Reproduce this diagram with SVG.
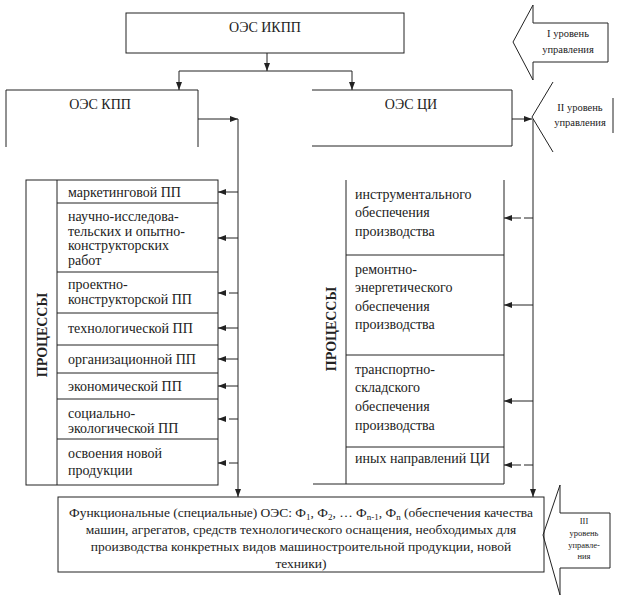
<svg xmlns="http://www.w3.org/2000/svg" width="618" height="605" viewBox="0 0 618 605">
<defs>
<marker id="ah" markerWidth="8" markerHeight="6" refX="8" refY="3" orient="auto" markerUnits="userSpaceOnUse">
<path d="M0,0 L8,3 L0,6 Z" fill="#222"/>
</marker>
<style>
.ln{fill:none;stroke:#222;stroke-width:1}
.t{font-family:"Liberation Serif","Times New Roman",serif;font-size:14px;fill:#222}
.tc{font-family:"Liberation Serif","Times New Roman",serif;font-size:14px;fill:#222;text-anchor:middle}
.tf{font-family:"Liberation Serif","Times New Roman",serif;font-size:13.5px;fill:#222;text-anchor:middle}
.tb{font-family:"Liberation Serif","Times New Roman",serif;font-size:14px;font-weight:bold;fill:#222;text-anchor:middle}
.ts{font-family:"Liberation Serif","Times New Roman",serif;font-size:10.5px;fill:#222;text-anchor:middle}
.tss{font-family:"Liberation Serif","Times New Roman",serif;font-size:8.5px;fill:#222;text-anchor:middle}
.cn{fill:none;stroke:#222;stroke-width:1}
.cd{fill:none;stroke:#222;stroke-width:1;stroke-dasharray:9,3}
</style>
</defs>
<rect width="618" height="605" fill="#fff"/>

<g id="oes-ikpp">
<rect class="ln" x="126" y="13" width="278" height="40"/>
<text class="tc" x="265" y="32">ОЭС ИКПП</text>
</g>

<g id="oes-kpp">
<path class="ln" d="M6,147 V90 H198 V147"/>
<text class="tc" x="100" y="109">ОЭС КПП</text>
</g>

<g id="oes-ci">
<path class="ln" d="M312,90 H512 V146 H312"/>
<text class="tc" x="411" y="109">ОЭС ЦИ</text>
</g>

<g id="processes-left">
<rect class="ln" x="26" y="180" width="192" height="305"/>
<line class="ln" x1="57" y1="180" x2="57" y2="485"/>
<path class="ln" d="M57,203 H218 M57,272 H218 M57,313 H218 M57,345 H218 M57,373 H218 M57,399 H218 M57,439 H218"/>
<text class="tb" transform="translate(47,335) rotate(-90)">ПРОЦЕССЫ</text>
<text class="t" x="68" y="197">маркетинговой ПП</text>
<text class="t" x="68" y="221">научно-исследова-</text>
<text class="t" x="68" y="236">тельских и опытно-</text>
<text class="t" x="68" y="250">конструкторских</text>
<text class="t" x="68" y="265">работ</text>
<text class="t" x="68" y="289">проектно-</text>
<text class="t" x="68" y="304">конструкторской ПП</text>
<text class="t" x="68" y="333">технологической ПП</text>
<text class="t" x="68" y="364">организационной ПП</text>
<text class="t" x="68" y="391">экономической ПП</text>
<text class="t" x="68" y="418">социально-</text>
<text class="t" x="68" y="433">экологической ПП</text>
<text class="t" x="68" y="458">освоения новой</text>
<text class="t" x="68" y="475">продукции</text>
</g>

<g id="processes-right">
<path class="ln" d="M346,180 V484 M504,180 V484 M313,484 H504 M346,255 H504 M346,355 H504 M346,447 H504"/>
<text class="tb" transform="translate(336,329) rotate(-90)">ПРОЦЕССЫ</text>
<text class="t" x="355" y="199">инструментального</text>
<text class="t" x="355" y="217">обеспечения</text>
<text class="t" x="355" y="236">производства</text>
<text class="t" x="355" y="274">ремонтно-</text>
<text class="t" x="355" y="292">энергетического</text>
<text class="t" x="355" y="311">обеспечения</text>
<text class="t" x="355" y="329">производства</text>
<text class="t" x="355" y="374">транспортно-</text>
<text class="t" x="355" y="392">складского</text>
<text class="t" x="355" y="411">обеспечения</text>
<text class="t" x="355" y="430">производства</text>
<text class="t" x="355" y="463">иных направлений ЦИ</text>
</g>

<g id="functional-oes">
<rect class="ln" x="58" y="497" width="486" height="75"/>
<text class="tf" x="301" y="517">Функциональные (специальные) ОЭС: Ф<tspan font-size="9" dy="3">1</tspan><tspan dy="-3">, Ф</tspan><tspan font-size="9" dy="3">2</tspan><tspan dy="-3">, …  Ф</tspan><tspan font-size="9" dy="3">n-1</tspan><tspan dy="-3">, Ф</tspan><tspan font-size="9" dy="3">n</tspan><tspan dy="-3"> (обеспечения качества</tspan></text>
<text class="tf" x="301" y="534">машин, агрегатов, средств технологического оснащения, необходимых для</text>
<text class="tf" x="301" y="551">производства конкретных видов машиностроительной продукции, новой</text>
<text class="tf" x="301" y="568">техники)</text>
</g>

<g id="level-1">
<polygon class="ln" points="513,42 533,5 533,23 608,23 608,62 533,62 533,80"/>
<text class="ts" x="568" y="37">I уровень</text>
<text class="ts" x="568" y="53">управления</text>
</g>

<g id="level-2">
<path class="ln" d="M553,82 L532,117 L553,152 M613,98 V133"/>
<text class="ts" x="580" y="111">II уровень</text>
<text class="ts" x="580" y="126">управления</text>
</g>

<g id="level-3">
<polygon class="ln" points="543,535 560,485 560,513 610,513 610,568 560,568 560,595"/>
<text class="tss" x="584" y="524">III</text>
<text class="tss" x="584" y="536">уровень</text>
<text class="tss" x="584" y="548">управле-</text>
<text class="tss" x="584" y="559">ния</text>
</g>

<g id="connectors">
<line class="cn" x1="267" y1="53" x2="267" y2="71" marker-end="url(#ah)"/>
<path class="cn" d="M179,71 H352"/>
<line class="cn" x1="179" y1="71" x2="179" y2="90" marker-end="url(#ah)"/>
<line class="cn" x1="352" y1="71" x2="352" y2="90" marker-end="url(#ah)"/>
<line class="cn" x1="198" y1="119" x2="238" y2="119" marker-end="url(#ah)"/>
<line class="cn" x1="238" y1="119" x2="238" y2="497" marker-end="url(#ah)"/>
<line class="cn" x1="512" y1="119" x2="532" y2="119" marker-end="url(#ah)"/>
<line class="cn" x1="533" y1="119" x2="533" y2="497" marker-end="url(#ah)"/>
<line class="cn" x1="238" y1="192" x2="218" y2="192" marker-end="url(#ah)"/>
<line class="cn" x1="238" y1="238" x2="218" y2="238" marker-end="url(#ah)"/>
<line class="cd" x1="238" y1="293" x2="218" y2="293" marker-end="url(#ah)"/>
<line class="cn" x1="238" y1="328" x2="218" y2="328" marker-end="url(#ah)"/>
<line class="cn" x1="238" y1="359" x2="218" y2="359" marker-end="url(#ah)"/>
<line class="cn" x1="238" y1="386" x2="218" y2="386" marker-end="url(#ah)"/>
<line class="cd" x1="238" y1="419" x2="218" y2="419" marker-end="url(#ah)"/>
<line class="cd" x1="238" y1="463" x2="218" y2="463" marker-end="url(#ah)"/>
<line class="cd" x1="533" y1="218" x2="504" y2="218" marker-end="url(#ah)"/>
<line class="cn" x1="533" y1="305" x2="504" y2="305" marker-end="url(#ah)"/>
<line class="cn" x1="533" y1="401" x2="504" y2="401" marker-end="url(#ah)"/>
<line class="cd" x1="533" y1="465" x2="504" y2="465" marker-end="url(#ah)"/>
</g>
</svg>
